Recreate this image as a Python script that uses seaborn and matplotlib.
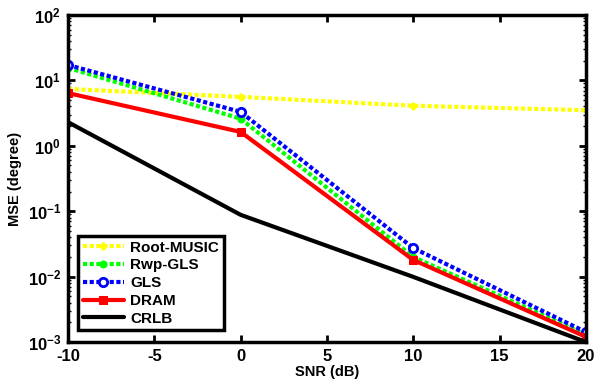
import numpy as np
import pandas as pd
import matplotlib
matplotlib.use("Agg")
import matplotlib.pyplot as plt
import seaborn as sns

# valeurs
snr = [-10, 0, 10, 20]
root_music = [7.4, 5.6, 4.1, 3.5]
rwp_gls = [15.5, 2.6, 0.020, 0.0013]
gls = [17.2, 3.3, 0.0273, 0.00142]
dram = [6.4, 1.63, 0.018, 0.0012]
crlb = [2.3, 0.088, 0.0099, 0.001]

sns.set_style("ticks", {"axes.edgecolor": "black", "xtick.color": "black",
                        "ytick.color": "black", "text.color": "black",
                        "axes.labelcolor": "black"})
plt.rcParams['font.family'] = ['Liberation Sans', 'DejaVu Sans']
plt.rcParams['font.weight'] = 'bold'
plt.rcParams['axes.labelweight'] = 'bold'
plt.rcParams['axes.unicode_minus'] = False

series = [
    ("Root-MUSIC", root_music, dict(color="#ffff00", linestyle=(0, (1, 0.6)), lw=3,
                                    marker="D", ms=4, mfc="#ffff00", mec="#ffff00")),
    ("Rwp-GLS", rwp_gls, dict(color="#00ff00", linestyle=(0, (1, 0.6)), lw=3,
                              marker="o", ms=5, mfc="#00ff00", mec="#00ff00")),
    ("GLS", gls, dict(color="#0000ff", linestyle=(0, (1, 0.6)), lw=3,
                      marker="o", ms=6, mfc="white", mec="#0000ff", mew=2)),
    ("DRAM", dram, dict(color="#ff0000", linestyle="-", lw=3,
                        marker="s", ms=5.5, mfc="#ff0000", mec="#ff0000")),
    ("CRLB", crlb, dict(color="black", linestyle="-", lw=3, marker=None)),
]

fig = plt.figure(figsize=(6.15, 3.88), dpi=100)
ax = fig.add_axes([0.1106, 0.1186, 0.842, 0.8427])

for name, vals, style in series:
    df = pd.DataFrame({"snr": snr, "mse": vals})
    sns.lineplot(data=df, x="snr", y="mse", ax=ax, label=name, **style)

ax.set_yscale("log")
ax.set_xlim(-10, 20)
ax.set_ylim(1e-3, 1e2)
ax.set_xticks([-10, -5, 0, 5, 10, 15, 20])
ax.set_xlabel("SNR (dB)", fontsize=10.5, labelpad=1)
ax.set_ylabel("MSE (degree)", fontsize=10.5, labelpad=4)
ax.tick_params(which="both", direction="in", top=True, right=True, labelsize=12)
ax.tick_params(which="major", length=5, width=2, pad=5)
ax.tick_params(which="minor", length=2.5, width=1)
for sp in ax.spines.values():
    sp.set_linewidth(2.5)
    sp.set_color("black")
for lab in ax.get_xticklabels() + ax.get_yticklabels():
    lab.set_fontweight("bold")

leg = ax.legend(loc="lower left", bbox_to_anchor=(0.005, 0.012), fontsize=11,
                handlelength=2.7, handletextpad=0.4, labelspacing=0.25,
                borderpad=0.3, fancybox=False, edgecolor="black", framealpha=1)
leg.get_frame().set_linewidth(2.5)
for t in leg.get_texts():
    t.set_fontweight("bold")

fig.savefig("out.png", dpi=100)
